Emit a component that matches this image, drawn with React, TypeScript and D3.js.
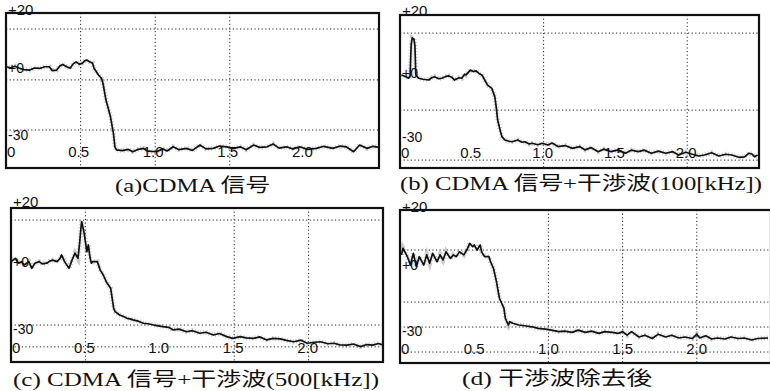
import React from "react";
import * as d3 from "d3";

// ---------- data (frequency [MHz], level [dB]) ----------
const xTickValues = [0, 0.5, 1.0, 1.5, 2.0];
const xTickLabels = ["0", "0.5", "1.0", "1.5", "2.0"];
const levelLabels = ["+20", "+0", "-30"];

const traceA: [number, number][] = [
  [0.0, -0.8], [0.03, -1.2], [0.06, -0.6], [0.09, -1.4], [0.12, -1.9], [0.16, -2.1], [0.19, -1.3],
  [0.23, -1.4], [0.26, -0.8], [0.29, -0.8], [0.31, -2.3], [0.34, -2.1], [0.36, -0.5], [0.38, 0.1],
  [0.41, -0.9], [0.43, -1.4], [0.45, 0.3], [0.47, 1.1], [0.49, 0.2], [0.51, 0.5], [0.53, 1.6],
  [0.54, 1.8], [0.56, 1.1], [0.58, 0.6], [0.59, -1.4], [0.62, -4.0], [0.64, -5.3], [0.65, -7.2],
  [0.67, -13.7], [0.7, -20.1], [0.72, -26.6], [0.73, -31.8], [0.74, -33.0], [0.78, -33.3],
  [0.82, -32.8], [0.85, -33.7], [0.88, -32.9], [0.92, -32.4], [0.95, -33.5], [1.01, -33.7],
  [1.05, -32.6], [1.08, -33.4], [1.12, -31.8], [1.16, -32.9], [1.21, -32.4], [1.25, -33.2],
  [1.3, -31.1], [1.34, -32.6], [1.39, -32.4], [1.43, -31.5], [1.48, -31.8], [1.52, -32.5],
  [1.57, -31.8], [1.61, -32.9], [1.66, -31.1], [1.7, -32.0], [1.75, -31.8], [1.79, -30.7],
  [1.83, -32.3], [1.88, -31.8], [1.92, -32.6], [1.97, -31.8], [2.02, -32.8], [2.08, -32.4],
  [2.13, -31.6], [2.19, -32.4], [2.24, -31.5], [2.28, -31.8], [2.33, -33.7], [2.37, -31.1],
  [2.42, -32.4], [2.46, -31.6], [2.5, -32.0],
];

const traceB: [number, number][] = [
  [0.01, -3.5], [0.04, -4.2], [0.06, -4.8], [0.07, -4.0], [0.078, 8.5], [0.085, 11.0],
  [0.097, 10.6], [0.104, 8.0], [0.11, -3.5], [0.13, -4.8], [0.16, -5.2], [0.2, -5.5],
  [0.22, -4.6], [0.24, -4.2], [0.27, -5.0], [0.29, -4.8], [0.32, -4.1], [0.34, -3.9],
  [0.36, -4.4], [0.38, -5.5], [0.41, -4.6], [0.43, -4.8], [0.45, -3.2], [0.46, -3.5],
  [0.49, -1.6], [0.51, -2.2], [0.53, -1.9], [0.55, -2.9], [0.57, -3.5], [0.59, -5.5],
  [0.61, -7.5], [0.64, -8.8], [0.66, -12.0], [0.67, -16.0], [0.68, -21.2], [0.7, -25.8],
  [0.71, -27.7], [0.73, -29.0], [0.76, -29.5], [0.78, -29.7], [0.82, -29.0], [0.85, -29.9],
  [0.87, -29.7], [0.9, -30.6], [0.92, -30.3], [0.96, -30.9], [0.99, -30.3], [1.03, -31.0],
  [1.06, -30.2], [1.1, -31.6], [1.15, -31.2], [1.2, -32.3], [1.25, -31.6], [1.29, -32.9],
  [1.33, -32.0], [1.38, -33.6], [1.42, -32.6], [1.47, -33.6], [1.52, -32.9], [1.57, -34.2],
  [1.61, -33.0], [1.66, -33.6], [1.7, -33.0], [1.75, -34.2], [1.8, -33.4], [1.85, -34.2],
  [1.9, -33.6], [1.94, -34.9], [1.99, -33.8], [2.03, -34.5], [2.08, -35.3], [2.12, -34.9],
  [2.17, -34.0], [2.22, -35.3], [2.27, -34.6], [2.31, -34.9], [2.36, -35.8], [2.4, -35.6],
  [2.43, -34.2], [2.45, -34.5], [2.47, -35.6], [2.49, -34.9],
];

const traceC: [number, number][] = [
  [0.0, -0.9], [0.03, 0.4], [0.05, -1.5], [0.07, -0.9], [0.09, -2.2], [0.12, -0.9],
  [0.14, -3.5], [0.16, -1.5], [0.19, -0.9], [0.21, -1.8], [0.24, -1.5], [0.26, -0.7],
  [0.28, -0.3], [0.31, -0.9], [0.33, 0.4], [0.34, 1.7], [0.36, -0.9], [0.39, -3.5],
  [0.41, -0.3], [0.43, 2.4], [0.45, 0.4], [0.46, 5.6], [0.47, 12.1], [0.475, 14.7],
  [0.49, 10.8], [0.5, 6.9], [0.51, 3.0], [0.52, 5.6], [0.53, 1.0], [0.54, -1.5],
  [0.55, -0.9], [0.58, -0.9], [0.6, -4.2], [0.62, -6.1], [0.64, -8.7], [0.67, -11.3],
  [0.69, -19.1], [0.7, -20.4], [0.73, -21.7], [0.76, -22.4], [0.78, -23.0], [0.8, -23.2],
  [0.82, -23.6], [0.86, -24.2], [0.89, -24.9], [0.92, -25.1], [0.96, -25.6], [0.99, -25.9],
  [1.02, -26.2], [1.06, -26.5], [1.09, -27.5], [1.13, -27.2], [1.18, -28.2], [1.22, -27.8],
  [1.27, -28.8], [1.31, -28.4], [1.36, -29.5], [1.4, -28.9], [1.45, -30.1], [1.49, -30.8],
  [1.54, -30.1], [1.58, -30.6], [1.63, -30.8], [1.67, -30.2], [1.72, -31.4], [1.76, -30.8],
  [1.81, -31.0], [1.85, -31.6], [1.9, -32.1], [1.95, -31.5], [1.99, -32.7], [2.04, -32.3],
  [2.08, -32.1], [2.13, -32.9], [2.17, -32.7], [2.21, -33.3], [2.26, -33.4], [2.3, -33.0],
  [2.35, -34.0], [2.39, -33.2], [2.43, -33.4], [2.47, -32.8], [2.5, -33.4],
];

const traceD: [number, number][] = [
  [0.01, 2.4], [0.02, 5.0], [0.05, 1.7], [0.07, -1.6], [0.09, 3.0], [0.11, -2.2],
  [0.13, 1.7], [0.16, -1.6], [0.18, 2.4], [0.2, -0.9], [0.22, 3.0], [0.25, -0.3],
  [0.27, 2.4], [0.29, 0.4], [0.31, 3.6], [0.34, 1.0], [0.36, 2.4], [0.38, 1.7],
  [0.4, 3.6], [0.43, 2.4], [0.45, 4.3], [0.47, 6.9], [0.49, 5.6], [0.5, 6.3],
  [0.52, 4.3], [0.54, 6.3], [0.55, 3.6], [0.57, 1.7], [0.6, 1.7], [0.61, -0.3],
  [0.63, -2.9], [0.65, -8.1], [0.67, -14.6], [0.7, -18.5], [0.71, -22.5], [0.73, -25.1],
  [0.74, -23.8], [0.76, -24.4], [0.8, -25.1], [0.84, -25.4], [0.89, -25.8], [0.93, -26.4],
  [0.98, -26.7], [1.02, -27.1], [1.07, -27.7], [1.11, -27.5], [1.16, -28.0], [1.2, -27.1],
  [1.25, -28.0], [1.29, -27.5], [1.34, -28.4], [1.38, -27.7], [1.43, -28.0], [1.47, -28.4],
  [1.5, -27.7], [1.53, -29.1], [1.56, -27.7], [1.61, -29.8], [1.65, -29.1], [1.7, -30.4],
  [1.74, -28.7], [1.79, -29.8], [1.83, -29.1], [1.88, -30.2], [1.92, -29.8], [1.97, -30.4],
  [2.0, -28.7], [2.02, -30.2], [2.06, -29.3], [2.1, -30.6], [2.14, -30.2], [2.19, -30.6],
  [2.23, -29.8], [2.28, -30.4], [2.32, -30.2], [2.37, -31.0], [2.41, -30.4], [2.48, -30.2],
];

// grid levels (dB) and grid frequencies (MHz) as printed on each screen
const gridLevelsA = [13.8, -5.9, -25.3];
const gridFreqsA = [0.5, 1.0, 1.5];
const gridLevelsB = [12.9, -17.3, -36.9];
const gridFreqsB = [1.0, 2.0];
const gridLevelsC = [15.3, -25.6, -34.1];
const gridFreqsC = [0.5, 1.5, 2.0];
const gridLevelsD = [4.3, -16.1, -25.9, -35.7];
const gridFreqsD = [1.0, 1.5, 2.0];

const captions = [
  "(a)CDMA 信号",
  "(b) CDMA 信号+干渉波(100[kHz])",
  "(c) CDMA 信号+干渉波(500[kHz])",
  "(d)  干渉波除去後",
];

// ---------- layout ----------
const W = 770;
const H = 391;

type Panel = {
  data: [number, number][];
  gridLevels: number[];
  gridFreqs: number[];
  caption: string;
  x0: number; x1: number; y0: number; y1: number;
  capX: number; capY: number; capLen: number;
  tickY: number; tickDx: number;
  lvlY: number[];
};

const panels: Panel[] = [
  { data: traceA, gridLevels: gridLevelsA, gridFreqs: gridFreqsA, caption: captions[0],
    x0: 6, x1: 379, y0: 13, y1: 168, capX: 115, capY: 192, capLen: 155,
    tickY: 157, tickDx: -2, lvlY: [15, 73, 140] },
  { data: traceB, gridLevels: gridLevelsB, gridFreqs: gridFreqsB, caption: captions[1],
    x0: 400, x1: 759, y0: 15, y1: 168, capX: 400, capY: 190, capLen: 362,
    tickY: 158, tickDx: -1, lvlY: [16, 78, 142] },
  { data: traceC, gridLevels: gridLevelsC, gridFreqs: gridFreqsC, caption: captions[2],
    x0: 11, x1: 383, y0: 208, y1: 362, capX: 13, capY: 386, capLen: 366,
    tickY: 353, tickDx: -1, lvlY: [207, 267, 334] },
  { data: traceD, gridLevels: gridLevelsD, gridFreqs: gridFreqsD, caption: captions[3],
    x0: 400, x1: 771, y0: 210, y1: 363, capX: 462, capY: 385, capLen: 190,
    tickY: 354, tickDx: 0, lvlY: [212, 270, 336] },
];

const labelFont = "'Liberation Sans', Arial, sans-serif";
const capFont = "'Liberation Serif', 'Noto Sans CJK JP', serif";

function PanelView({ p }: { p: Panel }) {
  const x = d3.scaleLinear().domain([0, 2.5]).range([p.x0, p.x1]);
  const y = d3.scaleLinear().domain([-40, 20]).range([p.y1, p.y0]);
  const line = d3.line<[number, number]>().x((d) => x(d[0])).y((d) => y(d[1]));
  const path = line(p.data) || "";
  return (
    <g>
      {p.gridLevels.map((g, i) => (
        <line key={"h" + i} x1={p.x0} x2={p.x1} y1={y(g)} y2={y(g)}
          stroke="#222" strokeWidth={1} strokeDasharray="1.2 2.4" />
      ))}
      {p.gridFreqs.map((g, i) => (
        <line key={"v" + i} x1={x(g)} x2={x(g)} y1={p.y0} y2={p.y1}
          stroke="#222" strokeWidth={1} strokeDasharray="1.2 2.4" />
      ))}
      <path d={path} fill="none" stroke="#aaa" strokeWidth={5} strokeDasharray="1 2" opacity={0.6} />
      <path d={path} fill="none" stroke="#111" strokeWidth={1.7} strokeLinejoin="round" />
      <rect x={p.x0} y={p.y0} width={p.x1 - p.x0} height={p.y1 - p.y0}
        fill="none" stroke="#111" strokeWidth={2.2} />
      {xTickValues.map((v, i) => (
        <text key={"t" + i}
          x={i === 0 ? p.x0 + 1 : x(v) + p.tickDx}
          y={p.tickY}
          textAnchor={i === 0 ? "start" : "middle"}
          fontFamily={labelFont} fontSize={15} fill="#111">
          {xTickLabels[i]}
        </text>
      ))}
      {levelLabels.map((l, i) => (
        <text key={"l" + i} x={p.x0 + 2} y={p.lvlY[i]} fontFamily={labelFont}
          fontSize={i === 0 ? 15 : 14} fill="#111">
          {l}
        </text>
      ))}
      <text x={p.capX} y={p.capY} fontFamily={capFont} fontSize={19} fill="#111"
        textLength={p.capLen} lengthAdjust="spacingAndGlyphs">
        {p.caption}
      </text>
    </g>
  );
}

export default function App() {
  return (
    <svg width={W} height={H} viewBox={`0 0 ${W} ${H}`}
      style={{ position: "absolute", left: 0, top: 0, background: "#fff", display: "block" }}>
      <rect x={0} y={0} width={W} height={H} fill="#fff" />
      {panels.map((p, i) => (
        <PanelView key={i} p={p} />
      ))}
    </svg>
  );
}
